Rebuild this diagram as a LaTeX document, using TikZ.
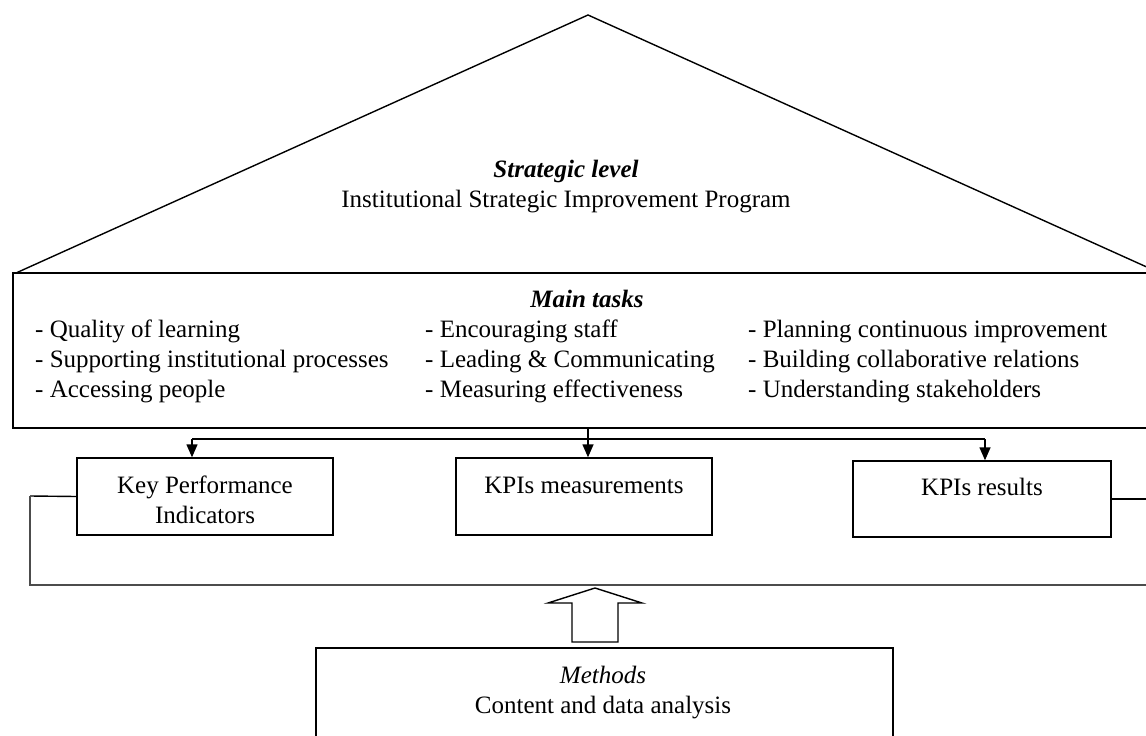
\documentclass[tikz,border=0pt]{standalone}
\usepackage{fontspec}
\setmainfont{Liberation Serif}
\usetikzlibrary{arrows.meta}
\tikzset{
  box/.style={draw, line width=1.4pt, inner sep=0pt},
  txt/.style={inner sep=0pt, font=\fontsize{25}{30}\selectfont},
  item/.style={txt, anchor=mid west},
  conn/.style={line width=1.4pt},
  arr/.style={conn, -{Triangle[width=11pt,length=13pt]}},
}
\begin{document}
\begin{tikzpicture}[x=1pt,y=-1pt]
\useasboundingbox (0,0) rectangle (1146,736);
\clip (0,0) rectangle (1146,736);
% roof
\coordinate (rl) at (16,273);
\coordinate (apex) at (588,15);
\coordinate (rr) at (1160,273);
\draw[conn, line join=miter] (rl) -- (apex) -- (rr);
\node[txt, font=\fontsize{25}{30}\selectfont\bfseries\itshape, anchor=mid] (strat) at (566,175) {Strategic level};
\node[txt, anchor=mid] (isip) at (566,205) {Institutional Strategic Improvement Program};
% main box
\node[box, minimum width=1147pt, minimum height=155pt] (main) at (586.5,350.5) {};
\node[txt, font=\fontsize{25}{30}\selectfont\bfseries\itshape, anchor=mid] (mt) at (587,305) {Main tasks};
\node[item] (a1) at (35,335) {- Quality of learning};
\node[item] (a2) at (35,365) {- Supporting institutional processes};
\node[item] (a3) at (35,395) {- Accessing people};
\node[item] (b1) at (425,335) {- Encouraging staff};
\node[item] (b2) at (425,365) {- Leading \& Communicating};
\node[item] (b3) at (425,395) {- Measuring effectiveness};
\node[item] (c1) at (748,335) {- Planning continuous improvement};
\node[item] (c2) at (748,365) {- Building collaborative relations};
\node[item] (c3) at (748,395) {- Understanding stakeholders};
% KPI boxes
\node[box, minimum width=256pt, minimum height=77pt] (kpi) at (205,496.5) {};
\node[txt, anchor=mid] (kpit1) at (205,491) {Key Performance};
\node[txt, anchor=mid] (kpit2) at (205,521) {Indicators};
\node[box, minimum width=256pt, minimum height=77pt] (kpim) at (584,496.5) {};
\node[txt, anchor=mid] (kpimt) at (584,491) {KPIs measurements};
\node[box, minimum width=258pt, minimum height=76pt] (kpir) at (982,499) {};
\node[txt, anchor=mid] (kpirt) at (982,493) {KPIs results};
% distribution connectors
\coordinate (tl) at (192,439);
\coordinate (tm) at (588,439);
\coordinate (tr) at (985,439);
\draw[conn] (tl) -- (tr);
\draw[arr] (tl) -- (kpi.north -| tl);
\draw[arr] (main.south -| tm) -- (kpim.north -| tm);
\draw[arr] (tr) -- (kpir.north -| tr);
% feedback loop
\coordinate (lp1) at (30,496);
\coordinate (lp2) at (30,585);
\coordinate (lp3) at (1160,585);
\coordinate (lp4) at (1160,499);
\draw[conn] (kpi.west) -- (lp1);
\draw[line width=1.8pt, black!70] (lp1) -- (lp2) -- (lp3) -- (lp4);
\draw[conn] (lp4) -- (kpir.east);
% block arrow
\draw[line width=1.4pt, line join=miter, fill=white]
  (572,642) -- (572,603) -- (548,603) -- (595,588) -- (642,603) -- (618,603) -- (618,642) -- cycle;
% methods box
\node[box, line width=1.6pt, minimum width=577pt, minimum height=140pt] (meth) at (604.5,718) {};
\node[txt, font=\fontsize{25}{30}\selectfont\itshape, anchor=mid] (metht) at (603,681) {Methods};
\node[txt, anchor=mid] (methc) at (603,711) {Content and data analysis};
\end{tikzpicture}
\end{document}
